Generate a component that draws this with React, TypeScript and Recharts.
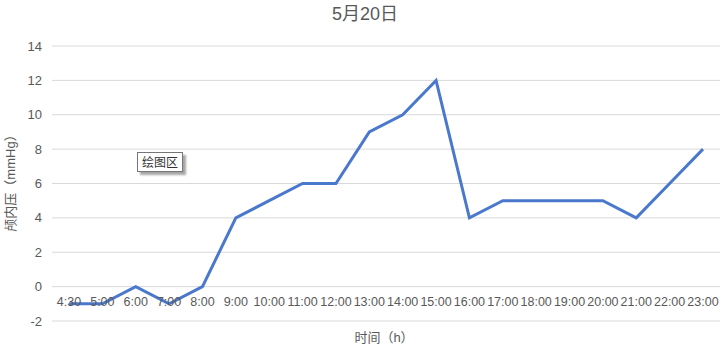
import { LineChart, Line, XAxis, YAxis, CartesianGrid } from 'recharts'

const times = ['4:30', '5:00', '6:00', '7:00', '8:00', '9:00', '10:00', '11:00', '12:00', '13:00',
  '14:00', '15:00', '16:00', '17:00', '18:00', '19:00', '20:00', '21:00', '22:00', '23:00']
const pressure = [-1, -1, 0, -1, 0, 4, 5, 6, 6, 9, 10, 12, 4, 5, 5, 5, 5, 4, 6, 8]
const yTicks = [-2, 0, 2, 4, 6, 8, 10, 12, 14]

const data = times.map((t, i) => ({ time: t, value: pressure[i] }))

const font = '"Liberation Sans", Arial, "Noto Sans CJK SC", sans-serif'
const grey = '#595959'

// Excel draws the category labels just under the 0 line, not at the bottom
const TimeTick = (props: any) => {
  const { x, y, payload } = props
  return (
    <text x={x} y={y - 19} textAnchor="middle" dominantBaseline="central"
      fontSize={12.5} fill={grey} fontFamily={font}>
      {payload.value}
    </text>
  )
}

export default function App() {
  return (
    <div style={{ position: 'absolute', left: 0, top: 0, width: 723, height: 349, background: '#fff', fontFamily: font }}>
      <LineChart width={723} height={349} data={data} margin={{ top: 46, right: 3, left: 0, bottom: 0 }}>
        <CartesianGrid vertical={false} stroke="#d9d9d9" />
        <XAxis
          dataKey="time"
          axisLine={false}
          tickLine={false}
          tickSize={0}
          tickMargin={0}
          height={28}
          interval={0}
          padding={{ left: 17, right: 17 }}
          tick={<TimeTick />}
        />
        <YAxis
          domain={[-2, 14]}
          ticks={yTicks}
          axisLine={false}
          tickLine={false}
          width={52}
          tickMargin={4}
          tick={{ fill: grey, fontSize: 13, fontFamily: font }}
        />
        <Line
          type="linear"
          dataKey="value"
          stroke="#4a78cc"
          strokeWidth={3}
          dot={false}
          isAnimationActive={false}
        />
        <text x={365} y={14} textAnchor="middle" dominantBaseline="central" fontSize={18} fill={grey} fontFamily={font}>
          5月20日
        </text>
        <text x={10} y={180} textAnchor="middle" dominantBaseline="central" fontSize={13} fill={grey}
          fontFamily={font} transform="rotate(-90 10 180)">
          颅内压（mmHg）
        </text>
        <text x={384} y={337} textAnchor="middle" dominantBaseline="central" fontSize={13} fill={grey} fontFamily={font}>
          时间（h）
        </text>
      </LineChart>
      <div style={{
        position: 'absolute', left: 137, top: 152, padding: '1px 4px', border: '1px solid #767676',
        background: '#fff', fontSize: 12, color: '#333', boxShadow: '3px 3px 2px rgba(0,0,0,0.35)',
        fontFamily: '"Noto Sans CJK SC", sans-serif', lineHeight: '16px'
      }}>
        绘图区
      </div>
    </div>
  )
}
